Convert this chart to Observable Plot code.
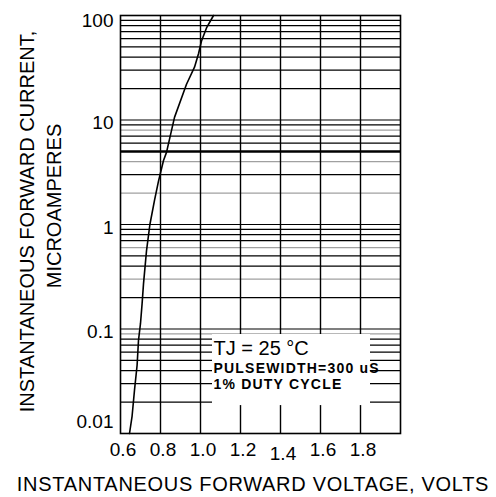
<!DOCTYPE html>
<html><head><meta charset="utf-8">
<script src="https://cdn.jsdelivr.net/npm/d3@7"></script>
<script src="https://cdn.jsdelivr.net/npm/@observablehq/plot@0.6"></script>
<style>body{margin:0;background:#fff;} svg{display:block}</style>
</head><body><div id="chart"></div>
<script>
// Forward characteristic
const voltage = [0.645, 0.658, 0.670, 0.683, 0.690, 0.700, 0.708, 0.715, 0.730, 0.747, 0.770, 0.790, 0.815, 0.830, 0.870, 0.930, 0.970, 0.990, 1.005, 1.030, 1.065];
const current = [0.010, 0.0147, 0.026, 0.045, 0.078, 0.113, 0.175, 0.27, 0.56, 1.0, 1.7, 2.6, 4.1, 4.9, 10.6, 22, 32, 43, 57, 76, 100];

const xTickValues = [0.6, 0.8, 1.0, 1.2, 1.4, 1.6, 1.8];
const xTickLabels = ["0.6", "0.8", "1.0", "1.2", "1.4", "1.6", "1.8"];
const yTickValues = [100, 10, 1, 0.1, 0.01];
const yTickLabels = ["100", "10", "1", "0.1", "0.01"];
const decades = [0.01, 0.1, 1, 10];
const minorMultipliers = [2, 3, 4, 5, 6, 7, 8, 9];
const xGridValues = [0.8, 1.0, 1.2, 1.4, 1.6, 1.8];
const grayGrid = [0.09, 0.3, 0.6, 2, 4, 8];
const thickGrid = [5];

const noteLines = ["TJ = 25 °C", "PULSEWIDTH=300 uS", "1% DUTY CYCLE"];
const noteY = [0.065, 0.0419, 0.0294];
const noteX = 1.065;
const noteBox = {x1: 1.06, x2: 1.85, y1: 0.0185, y2: 0.0886};

const xTitle = "INSTANTANEOUS FORWARD VOLTAGE, VOLTS";
const yTitle1 = "INSTANTANEOUS FORWARD CURRENT,";
const yTitle2 = "MICROAMPERES";

const curve = voltage.map((v, i) => ({v, i: current[i]}));
const hGrid = [];
for (const d of decades) for (const m of minorMultipliers) hGrid.push(+(d * m).toPrecision(3));
for (const d of decades.slice(1)) hGrid.push(d);
const near = (a, list) => list.some(b => Math.abs(a - b) / b < 1e-6);
const blackGrid = hGrid.filter(g => !near(g, grayGrid) && !near(g, thickGrid));
const grayG = hGrid.filter(g => near(g, grayGrid));
const thickG = hGrid.filter(g => near(g, thickGrid));
const yTicks = yTickValues.map((v, i) => ({v, label: yTickLabels[i]}));
const xTicks = xTickValues.map((v, i) => ({v, label: xTickLabels[i]}));
const notes = noteLines.map((t, i) => ({t, y: noteY[i], i}));

const font = "'Liberation Sans', Arial, Helvetica, sans-serif";
const tickText = {fontSize: 19, fill: "black", lineAnchor: "middle"};

const chart = Plot.plot({
  width: 496,
  height: 497,
  marginLeft: 120,
  marginRight: 96,
  marginTop: 15,
  marginBottom: 64,
  style: {fontFamily: font, background: "white", color: "black"},
  x: {domain: [0.6, 2.0], axis: null},
  y: {type: "log", domain: [0.01, 100], axis: null},
  marks: [
    Plot.ruleY(grayG, {y: d => d, stroke: "#a0a0a0", strokeWidth: 1.2}),
    Plot.ruleY(blackGrid, {y: d => d, stroke: "black", strokeWidth: 1.2}),
    Plot.ruleY(thickG, {y: d => d, stroke: "black", strokeWidth: 2.6}),
    Plot.ruleX(xGridValues, {x: d => d, stroke: "black", strokeWidth: 1.4}),
    Plot.rect([noteBox], {x1: "x1", x2: "x2", y1: "y1", y2: "y2", fill: "white"}),
    Plot.line(curve, {x: "v", y: "i", stroke: "black", strokeWidth: 1.6}),
    Plot.frame({stroke: "black", strokeWidth: 1.6}),
    // y tick labels (small vertical nudges as in the original)
    Plot.text(yTicks, {filter: d => d.label === "100", x: 0.6, y: "v", text: "label", textAnchor: "end", dx: -7, dy: 5, ...tickText}),
    Plot.text(yTicks, {filter: d => ["10", "1", "0.1"].includes(d.label), x: 0.6, y: "v", text: "label", textAnchor: "end", dx: -7, dy: 3, ...tickText}),
    Plot.text(yTicks, {filter: d => d.label === "0.01", x: 0.6, y: "v", text: "label", textAnchor: "end", dx: -7, dy: -12, ...tickText}),
    // x tick labels
    Plot.text(xTicks, {filter: d => d.label !== "1.4", x: "v", y: 0.01, text: "label", dx: 2.5, dy: 16.5, ...tickText}),
    Plot.text(xTicks, {filter: d => d.label === "1.4", x: "v", y: 0.01, text: "label", dx: 2.5, dy: 20.5, ...tickText}),
    // annotation
    Plot.text(notes.slice(0, 1), {x: noteX, y: "y", text: "t", textAnchor: "start", lineAnchor: "middle", fontSize: 20, fill: "black"}),
    Plot.text(notes.slice(1), {x: noteX, y: "y", text: "t", textAnchor: "start", lineAnchor: "middle", fontSize: 14, fontWeight: "bold", fill: "black", className: "spaced"}),
    // axis titles
    Plot.text([xTitle], {frameAnchor: "bottom", text: d => d, textAnchor: "middle", lineAnchor: "middle", dx: -7.5, dy: 51.5, fontSize: 20, fill: "black", className: "xtitle"}),
    Plot.text([yTitle1], {frameAnchor: "left", text: d => d, rotate: -90, textAnchor: "middle", lineAnchor: "middle", dx: -93, dy: -3, fontSize: 20, fill: "black"}),
    Plot.text([yTitle2], {frameAnchor: "left", text: d => d, rotate: -90, textAnchor: "middle", lineAnchor: "middle", dx: -66, dy: -18.5, fontSize: 20, fill: "black"})
  ]
});

d3.select(chart).selectAll(".spaced text").style("letter-spacing", "1.2px");
d3.select(chart).selectAll(".xtitle text").style("letter-spacing", "0.7px");
document.getElementById("chart").appendChild(chart);
</script>
</body></html>
